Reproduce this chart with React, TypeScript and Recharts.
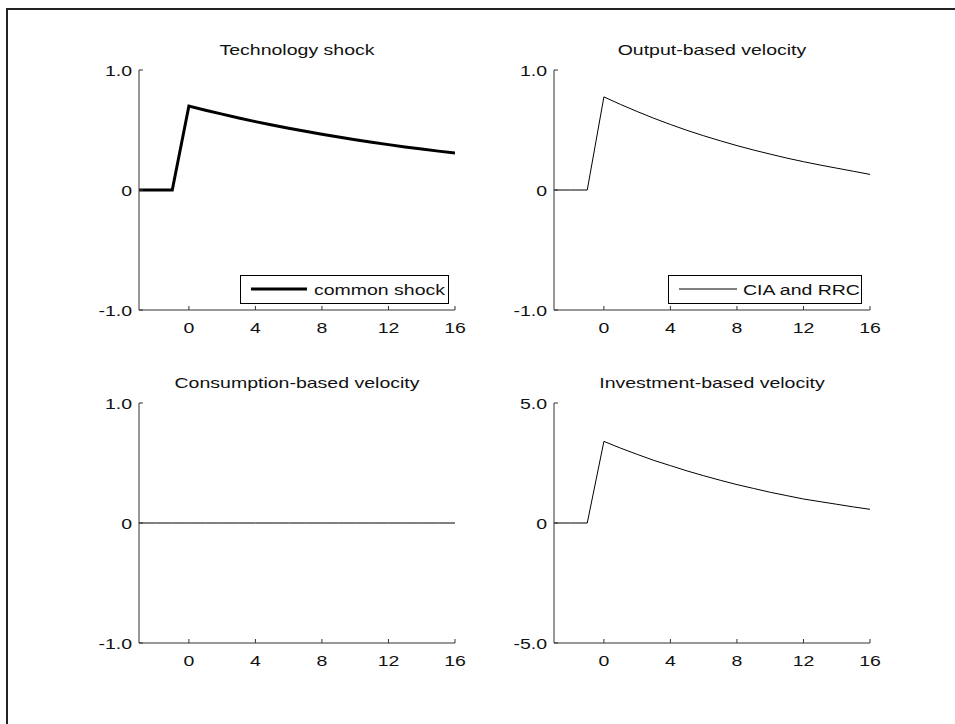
import { LineChart, Line, XAxis, YAxis, Legend } from 'recharts';

const FONT = '"Liberation Sans", Arial, Helvetica, sans-serif';
const AXIS = '#333';
const INK = '#111';
const STRETCH = 1.3;

// periods -3 .. 16
const periods = [-3, -2, -1, 0, 1, 2, 3, 4, 5, 6, 7, 8, 9, 10, 11, 12, 13, 14, 15, 16];

const techShock = [
  0, 0, 0, 0.7, 0.665, 0.632, 0.6, 0.57, 0.542, 0.515, 0.489, 0.464, 0.441, 0.419, 0.398, 0.378, 0.359,
  0.341, 0.324, 0.308,
];
const outputVelocity = [
  0, 0, 0, 0.776, 0.713, 0.654, 0.598, 0.546, 0.497, 0.452, 0.41, 0.37, 0.333, 0.299, 0.266, 0.236, 0.208,
  0.182, 0.156, 0.13,
];
const consumptionVelocity = [0, 0, 0, 0, 0, 0, 0, 0, 0, 0, 0, 0, 0, 0, 0, 0, 0, 0, 0, 0];
const investmentVelocity = [
  0, 0, 0, 3.4, 3.12, 2.86, 2.61, 2.39, 2.17, 1.97, 1.78, 1.6, 1.44, 1.28, 1.14, 1.0, 0.89, 0.78, 0.67,
  0.57,
];

const xTicks = [0, 4, 8, 12, 16];
const unitTicks = [-1, 0, 1];
const fiveTicks = [-5, 0, 5];

const PLOT_W = 316;
const PLOT_H = 240;
const PAD_L = 100;
const PAD_T = 20;
const CHART_W = PAD_L + PLOT_W + 34;
const CHART_H = PAD_T + PLOT_H + 40;

function fmtY(v: number) {
  return v === 0 ? '0' : v.toFixed(1);
}

function YTick({ x, y, payload }: any) {
  return (
    <g>
      <line x1={x} y1={y} x2={x + 4} y2={y} stroke={AXIS} />
      <text
        transform={`translate(${x - 7},${y + 5.5}) scale(${STRETCH},1)`}
        textAnchor="end"
        fontSize={15}
        fontFamily={FONT}
        fill={INK}
      >
        {fmtY(payload.value)}
      </text>
    </g>
  );
}

function XTick({ x, y, payload }: any) {
  return (
    <g>
      <line x1={x} y1={y} x2={x} y2={y - 4} stroke={AXIS} />
      <text
        transform={`translate(${x},${y + 23}) scale(${STRETCH},1)`}
        textAnchor="middle"
        fontSize={15}
        fontFamily={FONT}
        fill={INK}
      >
        {payload.value}
      </text>
    </g>
  );
}

function LegendBox({ label, width, thick }: { label: string; width: number; thick: boolean }) {
  return (
    <svg width={width} height={29} style={{ display: 'block' }}>
      <rect x={0.5} y={0.5} width={width - 1} height={28} fill="#fff" stroke="#000" />
      <line x1={11} x2={thick ? 67 : 69} y1={14} y2={14} stroke="#000" strokeWidth={thick ? 3 : 1} />
      <text
        transform={`translate(${thick ? 74 : 75},20) scale(${STRETCH},1)`}
        fontSize={15}
        fontFamily={FONT}
        fill={INK}
      >
        {label}
      </text>
    </svg>
  );
}

interface PanelProps {
  plotLeft: number;
  plotTop: number;
  title: string;
  values: number[];
  domain: [number, number];
  yTicks: number[];
  strokeWidth: number;
  legend?: { label: string; left: number; width: number };
}

function Panel({ plotLeft, plotTop, title, values, domain, yTicks, strokeWidth, legend }: PanelProps) {
  const rows = periods.map((t, i) => ({ t, v: values[i] }));
  const left = plotLeft - PAD_L;
  const top = plotTop - PAD_T;
  return (
    <>
      <div
        style={{
          position: 'absolute',
          left: plotLeft + PLOT_W / 2 - 200,
          top: plotTop - 15 - 12.7,
          width: 400,
          textAlign: 'center',
          fontFamily: FONT,
          fontSize: 15,
          lineHeight: '15px',
          color: INK,
          transform: `scaleX(${STRETCH})`,
          whiteSpace: 'nowrap',
        }}
      >
        {title}
      </div>
      <div style={{ position: 'absolute', left, top }}>
        <LineChart
          width={CHART_W}
          height={CHART_H}
          data={rows}
          margin={{ top: PAD_T, left: PAD_L - 40, right: CHART_W - PAD_L - PLOT_W, bottom: 0 }}
        >
          <XAxis
            type="number"
            dataKey="t"
            domain={[-3, 16]}
            ticks={xTicks}
            allowDataOverflow
            height={40}
            tickSize={0}
            tickMargin={0}
            tickLine={false}
            axisLine={{ stroke: AXIS }}
            tick={<XTick />}
          />
          <YAxis
            type="number"
            domain={domain}
            ticks={yTicks}
            allowDataOverflow
            width={40}
            tickSize={0}
            tickMargin={0}
            tickLine={false}
            axisLine={{ stroke: AXIS }}
            tick={<YTick />}
          />
          {legend && (
            <Legend
              verticalAlign="middle"
              align="center"
              wrapperStyle={{ left: legend.left - left, top: 275 - top, width: legend.width, height: 29 }}
              content={() => <LegendBox label={legend.label} width={legend.width} thick={strokeWidth > 1} />}
            />
          )}
          <Line
            type="linear"
            dataKey="v"
            name={legend ? legend.label : title}
            stroke="#000"
            strokeWidth={strokeWidth}
            dot={false}
            activeDot={false}
            isAnimationActive={false}
          />
        </LineChart>
      </div>
    </>
  );
}

export default function App() {
  return (
    <div
      style={{
        position: 'absolute',
        left: 0,
        top: 0,
        width: 955,
        height: 724,
        background: '#fff',
        overflow: 'hidden',
      }}
    >
      <div
        style={{
          position: 'absolute',
          left: 6,
          top: 8,
          width: 949,
          height: 716,
          borderTop: '2px solid #222',
          borderLeft: '2px solid #222',
          boxSizing: 'border-box',
        }}
      />
      <Panel
        plotLeft={139}
        plotTop={70}
        title="Technology shock"
        values={techShock}
        domain={[-1, 1]}
        yTicks={unitTicks}
        strokeWidth={3}
        legend={{ label: 'common shock', left: 240, width: 209 }}
      />
      <Panel
        plotLeft={554}
        plotTop={70}
        title="Output-based velocity"
        values={outputVelocity}
        domain={[-1, 1]}
        yTicks={unitTicks}
        strokeWidth={1}
        legend={{ label: 'CIA and RRC', left: 668, width: 194 }}
      />
      <Panel
        plotLeft={139}
        plotTop={403}
        title="Consumption-based velocity"
        values={consumptionVelocity}
        domain={[-1, 1]}
        yTicks={unitTicks}
        strokeWidth={1}
      />
      <Panel
        plotLeft={554}
        plotTop={403}
        title="Investment-based velocity"
        values={investmentVelocity}
        domain={[-5, 5]}
        yTicks={fiveTicks}
        strokeWidth={1}
      />
    </div>
  );
}
